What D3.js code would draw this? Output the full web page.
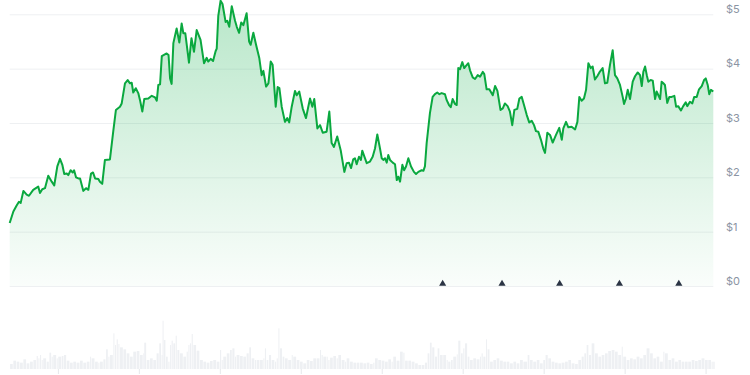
<!DOCTYPE html>
<html><head><meta charset="utf-8">
<script src="https://cdn.jsdelivr.net/npm/d3@7"></script>
<style>
html,body{margin:0;padding:0;background:#fff;}
svg{display:block;}
</style></head>
<body>
<svg id="chart" width="750" height="375"></svg>
<script>
// ---- data ----
const priceDays = [0,1.9,3.6,4.8,5.7,7.1,8.8,10.0,12.2,14.8,15.7,16.9,18.3,20.0,21.8,23.1,24.7,26.1,27.3,28.3,29.6,30.4,31.6,32.7,33.4,34.4,35.6,36.5,38.2,39.6,40.8,42.2,43.2,44.3,46.0,46.8,48.0,49.4,52.0,53.7,55.1,57.2,58.1,59.8,61.2,62.4,63.3,64.1,65.4,66.7,67.6,68.8,69.8,71.9,73.7,75.4,76.3,77.1,78.0,78.9,81.4,82.4,83.2,84.0,84.9,86.6,88.0,89.2,90.1,91.1,93.0,94.3,95.6,97.0,99.0,100.8,102.2,103.0,104.3,105.5,106.8,107.4,108.2,109.4,110.4,112.0,112.9,113.9,115.2,116.9,117.8,119.0,120.1,121.2,122.9,124.2,125.0,126.4,127.8,129.5,130.7,131.6,133.0,134.2,135.4,136.4,138.0,139.0,139.9,141.1,142.8,144.0,145.0,146.3,148.0,148.9,150.2,152.0,153.7,154.9,155.8,157.0,158.0,159.6,161.0,162.4,164.4,165.8,167.0,168.2,169.9,171.7,173.6,174.8,176.0,177.1,178.2,179.1,180.0,181.2,182.2,182.9,184.0,185.2,186.9,188.3,189.5,190.7,192.1,193.0,193.8,194.7,195.6,196.4,197.3,198.7,199.9,200.8,201.6,202.5,203.7,204.6,205.6,206.8,208.2,209.7,210.8,212.0,213.7,214.6,215.4,216.3,218.0,219.4,220.6,221.8,222.9,224.1,225.8,226.7,227.9,228.8,229.8,231.0,231.9,232.7,233.6,234.8,235.8,236.7,237.9,238.8,240.2,241.4,242.8,244.0,245.4,246.2,247.4,248.8,250.6,251.8,253.0,254.6,255.8,256.9,258.3,259.5,260.7,261.8,263.3,264.4,265.6,266.8,268.2,269.5,270.8,272.0,273.0,274.2,275.6,276.8,277.7,278.9,280.3,281.7,283.4,285.1,286.4,287.2,288.6,289.8,291.5,293.3,294.5,295.5,296.7,297.9,299.0,300.2,301.4,302.4,303.6,304.8,305.9,307.6,308.8,310.0,311.4,312.8,314.0,315.2,316.6,318.0,318.7,319.7,320.6,321.8,323.2,324.4,325.8,327.0,327.9,328.7,329.6,330.5,331.3,332.5,333.6,334.8,335.6,336.5,337.4,338.2,339.1,339.9,341.1,342.2,343.4,344.8,345.7,346.8,348.2,349.4,350.7,351.5,352.9,354.1,355.1,356.4,357.6,359.0,360.2,361.1,362.1,362.9,363.8,365.0];
const prices = [1.16,1.37,1.48,1.55,1.53,1.75,1.68,1.66,1.77,1.83,1.71,1.78,1.80,2.03,1.92,1.85,2.20,2.34,2.23,2.06,2.07,2.04,2.13,2.09,2.13,2.00,1.98,1.98,1.75,1.80,1.77,2.07,2.09,1.98,1.97,1.92,1.88,2.32,2.33,2.84,3.24,3.30,3.36,3.73,3.79,3.73,3.74,3.56,3.64,3.55,3.42,3.21,3.44,3.45,3.50,3.47,3.41,3.70,3.71,4.23,4.28,4.25,3.82,3.72,4.47,4.74,4.48,4.83,4.65,4.65,4.11,4.56,4.31,4.71,4.53,4.10,4.20,4.13,4.18,4.14,4.32,4.37,4.97,5.25,5.19,4.86,4.88,4.77,5.15,4.88,4.77,4.66,4.85,4.80,5.02,4.50,4.44,4.66,4.44,4.19,3.88,3.96,3.67,3.73,4.13,4.07,3.30,3.66,3.64,3.30,3.02,3.09,3.01,3.30,3.59,3.51,3.58,3.27,3.09,3.30,3.45,3.30,3.44,2.90,2.96,2.82,2.84,3.21,2.63,2.56,2.75,2.50,2.10,2.26,2.27,2.17,2.33,2.35,2.24,2.38,2.32,2.49,2.38,2.26,2.29,2.38,2.53,2.79,2.53,2.35,2.32,2.35,2.27,2.41,2.32,2.27,2.24,1.95,2.01,1.92,2.23,2.13,2.20,2.35,2.20,2.10,2.06,2.10,2.13,2.12,2.20,2.63,3.18,3.48,3.53,3.56,3.53,3.55,3.53,3.42,3.33,3.29,3.44,3.35,3.33,4.01,3.99,4.12,4.01,4.05,4.10,3.97,3.84,3.81,3.88,3.85,3.94,3.90,3.62,3.62,3.51,3.68,3.59,3.24,3.27,3.36,3.31,3.21,2.96,3.24,3.26,3.45,3.48,3.33,3.15,3.01,3.04,2.96,2.85,2.84,2.69,2.53,2.45,2.82,2.78,2.64,2.78,2.91,2.69,2.90,3.02,2.92,2.93,2.88,3.02,3.48,3.41,3.45,3.61,4.10,4.01,4.04,3.80,3.86,3.93,4.01,3.73,3.74,4.07,4.34,3.88,3.82,3.70,3.48,3.35,3.45,3.61,3.44,3.76,3.86,3.93,3.88,3.68,3.94,4.04,3.88,3.76,3.79,3.78,3.44,3.58,3.51,3.44,3.76,3.73,3.70,3.37,3.48,3.48,3.50,3.30,3.31,3.23,3.31,3.38,3.31,3.39,3.36,3.48,3.48,3.62,3.68,3.79,3.82,3.70,3.53,3.61,3.58];

const volDays = [0.2,1.9,3.6,5.3,7.1,8.8,10.5,12.3,14.0,14.9,15.7,16.6,17.4,19.2,20.6,21.8,22.6,24.4,25.2,27.0,28.2,29.6,31.3,33.0,34.7,36.5,38.2,40.0,41.7,42.5,44.3,46.0,46.8,48.6,50.0,51.2,52.0,53.8,54.6,55.5,56.4,57.2,59.0,60.7,62.4,64.1,65.9,67.6,69.3,69.8,71.1,72.8,74.5,76.2,77.6,78.8,79.3,80.0,81.1,82.3,83.2,84.0,84.9,86.1,87.0,88.3,90.1,91.8,92.7,93.5,94.4,95.3,97.0,98.7,100.5,102.2,103.9,105.6,107.4,109.1,110.0,110.8,112.6,114.3,115.5,116.9,117.7,119.5,121.2,122.9,124.3,125.5,127.2,128.1,129.8,131.6,132.4,133.3,134.5,135.9,137.6,138.5,139.4,140.2,141.6,142.8,144.5,146.3,147.1,148.9,150.6,152.3,154.1,155.8,157.5,159.2,161.0,161.8,162.7,164.4,165.3,166.2,167.9,169.6,170.5,172.2,174.0,174.8,176.5,178.3,180.0,181.7,183.5,185.2,186.9,188.6,189.5,191.2,193.0,194.7,196.4,198.1,199.0,200.7,202.5,204.2,205.1,206.8,208.5,210.3,212.0,213.7,215.4,216.8,218.0,219.2,220.6,222.0,223.2,224.9,226.7,227.5,228.9,230.1,231.9,232.7,234.1,235.3,236.2,237.6,238.8,240.5,242.2,244.0,244.8,245.7,247.1,247.9,249.2,250.9,252.6,254.3,256.1,257.8,259.5,261.3,263.0,264.7,266.5,268.7,269.9,271.6,273.4,275.1,276.8,278.0,279.4,281.1,282.9,284.6,286.3,288.1,289.8,291.5,293.3,295.0,296.7,298.1,299.3,300.5,301.9,303.6,305.4,307.1,308.8,310.5,312.3,314.0,315.7,317.5,318.3,320.1,321.8,323.5,325.2,327.0,328.7,330.4,332.2,333.9,335.6,337.3,339.1,339.9,341.7,343.4,345.1,346.9,348.6,350.3,352.0,353.8,355.5,357.2,358.9,360.7,362.4,364.1,365.0];
const volumes = [15,25,22,19,29,17,22,27,39,32,42,27,32,22,49,37,42,32,37,39,42,25,19,22,19,25,19,22,37,32,22,19,22,29,59,37,42,107,72,89,75,65,59,47,37,52,54,42,47,79,27,32,27,47,77,42,145,87,37,22,72,85,77,100,57,47,37,52,72,77,105,72,55,27,22,19,24,27,22,57,27,37,47,57,62,37,42,39,37,47,65,32,27,27,27,32,62,27,42,27,22,32,122,62,37,32,27,42,37,27,22,17,27,24,32,32,57,42,37,37,27,34,39,32,42,27,22,32,22,19,19,19,17,19,15,19,32,27,25,22,29,22,37,25,52,49,25,25,22,17,12,12,19,47,79,65,37,62,42,42,27,22,27,37,44,85,47,62,77,37,27,32,29,37,47,37,89,59,22,27,32,25,22,22,17,22,17,27,22,42,27,22,27,17,27,42,32,22,19,17,19,22,27,17,15,27,37,47,72,42,77,47,37,42,47,54,57,52,42,67,37,27,32,29,37,32,42,62,47,32,37,22,52,47,27,32,22,27,22,22,22,27,24,27,32,27,27,22,22];

const yTicks = [0, 1, 2, 3, 4, 5];
const xTicks = [25, 67, 109, 151, 193, 235, 277, 319, 361];
const eventDays = [224.6, 255.4, 285.3, 316.3, 347.1];

// ---- layout ----
const svg = d3.select("#chart");
const W = 750, H = 375;
const x = d3.scaleLinear().domain([0, 365]).range([9.7, 713.3]);
const y = d3.scaleLinear().domain([0, 5]).range([286, 14.3]);
const yv = d3.scaleLinear().domain([0, 150]).range([369, 319]);

const pts = priceDays.map((d, i) => ({ d, p: prices[i] }));

// gradient
const defs = svg.append("defs");
const grad = defs.append("linearGradient").attr("id", "g").attr("gradientUnits", "userSpaceOnUse")
  .attr("x1", 0).attr("y1", 0).attr("x2", 0).attr("y2", y(0));
grad.append("stop").attr("offset", 0).attr("stop-color", "#00a83e").attr("stop-opacity", 0.28);
grad.append("stop").attr("offset", 1).attr("stop-color", "#00a83e").attr("stop-opacity", 0.02);

// gridlines
const gridG = svg.append("g").attr("transform", `translate(${x.range()[0]},0)`)
  .call(d3.axisLeft(y).tickValues(yTicks).tickSize(-(x.range()[1] - x.range()[0])).tickFormat(""));
gridG.select(".domain").remove();
gridG.selectAll(".tick line").attr("stroke", "#eef0f2").attr("stroke-width", 1);

// y labels
const yAx = svg.append("g").attr("transform", `translate(726,0)`)
  .call(d3.axisRight(y).tickValues(yTicks).tickSize(0).tickPadding(0).tickFormat(d => "$" + d));
yAx.select(".domain").remove();
yAx.selectAll("text").attr("font-family", "Inter, 'Noto Sans', sans-serif").attr("font-size", 11)
  .attr("fill", "#8b94a3").attr("dy", "-0.15em");

// area + line
svg.append("path").datum(pts)
  .attr("d", d3.area().x(d => x(d.d)).y0(y(0)).y1(d => y(d.p)))
  .attr("fill", "url(#g)");
svg.append("path").datum(pts)
  .attr("d", d3.line().x(d => x(d.d)).y(d => y(d.p)))
  .attr("fill", "none").attr("stroke", "#0aa83f").attr("stroke-width", 2).attr("stroke-linejoin", "round");

// event markers
svg.append("g").selectAll("path").data(eventDays).join("path")
  .attr("d", d3.symbol().type(d3.symbolTriangle).size(22))
  .attr("transform", d => `translate(${x(d)},${y(0) - 2.2})`)
  .attr("fill", "#2b3444");

// volume bars
const vol = volDays.map((d, i) => ({ d, v: volumes[i], next: i < volDays.length - 1 ? volDays[i + 1] : d + 1 }));
svg.append("g").selectAll("rect").data(vol).join("rect")
  .attr("x", d => x(d.d))
  .attr("width", d => Math.max(1, x(d.next) - x(d.d) - 0.6))
  .attr("y", d => yv(d.v))
  .attr("height", d => yv(0) - yv(d.v))
  .attr("fill", "#eef0f3");

// x ticks (no labels)
const xAx = svg.append("g").attr("transform", `translate(0,369)`)
  .call(d3.axisBottom(x).tickValues(xTicks).tickSize(5).tickFormat(""));
xAx.select(".domain").remove();
xAx.selectAll(".tick line").attr("stroke", "#e6e8eb");
</script>
</body></html>
